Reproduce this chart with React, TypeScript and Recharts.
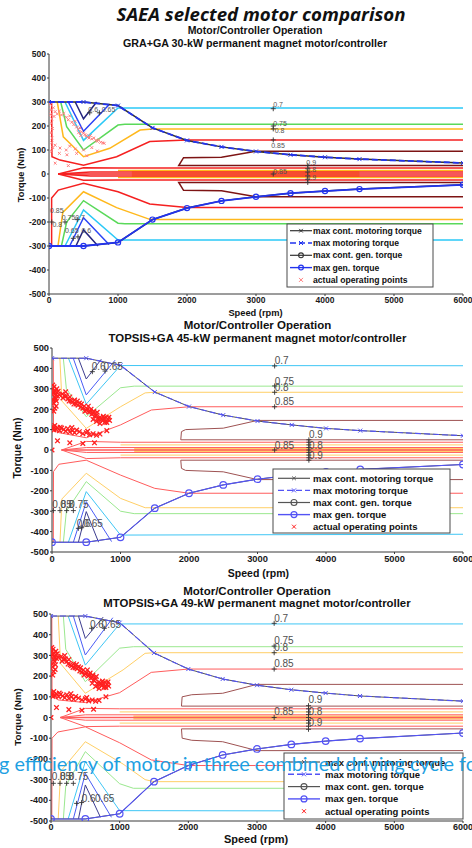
import React from "react";
import { ComposedChart, Line, Scatter, XAxis, YAxis } from "recharts";

type Pt = [number, number];
type Lab = [number, number, string];
type Spec = [Pt[], string, number?];

const FONT = "'Liberation Sans', Arial, Helvetica, sans-serif";

const speedGrid = [0, 500, 1000, 1500, 2000, 2500, 3000, 3500, 4000, 4500, 6000];
const speedTicks = [0, 1000, 2000, 3000, 4000, 5000, 6000];
const torqueTicks = [500, 400, 300, 200, 100, 0, -100, -200, -300, -400, -500];

const legendNames = [
  "max cont. motoring torque",
  "max motoring torque",
  "max cont. gen. torque",
  "max gen. torque",
  "actual operating points",
];

// ---------- GRA+GA 30-kW ----------
const graMot = [300, 300, 285, 192, 140, 113, 94, 80, 70, 62, 46];
const graGen = [-300, -300, -285, -190, -142, -112, -95, -80, -71, -63, -45];

const gra60u: Pt[] = [[380, 300], [500, 230], [690, 300]];
const gra60d: Pt[] = [[390, -300], [500, -233], [710, -300]];
const gra65u: Pt[] = [[280, 300], [500, 178], [880, 292]];
const gra65d: Pt[] = [[300, -300], [500, -182], [870, -294]];
const gra70u: Pt[] = [[232, 300], [500, 140], [1000, 275], [6000, 275]];
const gra70d: Pt[] = [[232, -300], [500, -150], [1000, -275], [6000, -275]];
const gra75u: Pt[] = [[170, 300], [256, 197], [500, 100], [1000, 204], [1100, 207], [6000, 207]];
const gra75d: Pt[] = [[180, -300], [256, -200], [500, -111], [1000, -205], [1100, -207], [6000, -207]];
const gra80u: Pt[] = [[120, 300], [207, 155], [500, 72], [880, 107], [1320, 183], [1500, 187], [6000, 187]];
const gra80d: Pt[] = [[130, -300], [200, -160], [500, -74], [980, -140], [1460, -189], [1600, -190], [6000, -190]];
const gra85u: Pt[] = [[38, 300], [43, 72], [159, 58], [500, 37], [980, 72], [1460, 135], [2000, 142], [6000, 142]];
const gra85d: Pt[] = [[38, -300], [38, -100], [135, -67], [500, -39], [1000, -74], [1460, -125], [2000, -140], [6000, -140]];
const gra90u: Pt[] = [[6000, 95], [3000, 95], [2500, 70], [1950, 68], [1880, 35], [6000, 35]];
const gra90d: Pt[] = [[6000, -95], [3000, -95], [2500, -70], [1950, -68], [1880, -35], [6000, -35]];
const graFanU: Pt[] = [[135, 0], [500, 26], [1000, 25], [6000, 25]];
const graFanD: Pt[] = [[135, 0], [500, -26], [1000, -25], [6000, -25]];
const graMidU: Pt[] = [[1000, 15], [6000, 15]];
const graMidD: Pt[] = [[1000, -15], [6000, -15]];
const graInU: Pt[] = [[135, 0], [600, 8], [6000, 8]];
const graInD: Pt[] = [[135, 0], [600, -8], [6000, -8]];
const graBand: Pt[] = [[1200, 0], [4500, 0]];
const graZero: Pt[] = [[135, 0], [6000, 0]];

const graOps: Pt[] = [
  [20, 290], [30, 268], [25, 248], [42, 230], [35, 212], [50, 190], [30, 172], [45, 150], [40, 130], [55, 110],
  [35, 95], [62, 276], [72, 240], [90, 260], [120, 250], [150, 262], [180, 246], [215, 252], [250, 236], [280, 226],
  [300, 242], [330, 216], [360, 206], [380, 220], [400, 196], [425, 186], [450, 192], [470, 176], [500, 170], [520, 164],
  [540, 160], [560, 154], [580, 150], [600, 160], [620, 146], [650, 150], [680, 140], [700, 136], [720, 142], [750, 132],
  [780, 130], [800, 128], [460, 160], [430, 172], [90, 120], [160, 108], [250, 100], [300, 116], [380, 104], [500, 100],
  [620, 110], [700, 96], [150, 86], [260, 80], [400, 86], [550, 76], [90, 45], [280, 35],
];
const graPlus: Pt[] = [
  [590, 255], [730, 255], [3250, 272], [3250, 200], [3250, 188], [3250, 142], [3250, 0],
  [3750, 35], [3750, 22], [3750, 8], [3750, -8], [3750, -22], [3750, -35],
  [40, -200], [232, -200], [410, -190], [352, -268], [420, -262],
];
const graLabels: Lab[] = [
  [570, 270, "0.6"], [764, 270, "0.65"], [3250, 289, "0.7"], [3250, 211, "0.75"], [3270, 180, "0.8"],
  [3220, 118, "0.85"], [3250, 10, "0.85"], [3730, 49, "0.9"], [3730, 17, "0.8"], [3730, -15, "0.9"],
  [15, -153, "0.85"], [50, -212, "0.8"], [184, -182, "0.75"], [380, -182, "0.7"], [232, -237, "0.65"], [470, -237, "0.6"],
];

// ---------- TOPSIS+GA 45-kW ----------
const topMot = [450, 450, 415, 284, 213, 171, 142, 123, 106, 95, 70];
const topGen = [-452, -452, -428, -285, -212, -171, -143, -123, -107, -95, -71];

const top60u: Pt[] = [[385, 450], [500, 348], [720, 445]];
const top60d: Pt[] = [[385, -452], [500, -302], [680, -452]];
const top65u: Pt[] = [[310, 450], [500, 270], [920, 440]];
const top65d: Pt[] = [[312, -452], [500, -253], [870, -449]];
const top70u: Pt[] = [[240, 450], [500, 225], [1000, 414], [6000, 413]];
const top70d: Pt[] = [[239, -452], [500, -204], [1000, -417], [6000, -413]];
const top75u: Pt[] = [[165, 450], [210, 300], [500, 163], [1000, 305], [1200, 313], [6000, 313]];
const top75d: Pt[] = [[166, -452], [210, -300], [500, -155], [1000, -300], [1200, -312], [6000, -312]];
const top80u: Pt[] = [[115, 450], [145, 240], [500, 106], [1000, 212], [1360, 280], [1500, 283], [6000, 283]];
const top80d: Pt[] = [[117, -452], [145, -240], [500, -114], [1000, -237], [1360, -283], [1500, -283], [6000, -283]];
const top85u: Pt[] = [[19, 450], [22, 125], [100, 85], [500, 60], [1000, 123], [1450, 196], [2000, 212], [6000, 212]];
const top85d: Pt[] = [[19, -452], [22, -106], [100, -70], [500, -50], [1000, -123], [1500, -188], [2000, -212], [6000, -212]];
const top90u: Pt[] = [[6000, 145], [3000, 145], [2500, 107], [1950, 100], [1890, 90], [1880, 50], [6000, 50]];
const top90d: Pt[] = [[6000, -145], [3000, -145], [2500, -107], [1950, -100], [1890, -90], [1880, -50], [6000, -50]];
const topFanU: Pt[] = [[140, 0], [500, 42], [1000, 38], [6000, 38]];
const topFanD: Pt[] = [[140, 0], [500, -42], [1000, -38], [6000, -38]];
const topMidU: Pt[] = [[1000, 25], [6000, 25]];
const topMidD: Pt[] = [[1000, -25], [6000, -25]];
const topInU: Pt[] = [[140, 0], [500, 12], [6000, 12]];
const topInD: Pt[] = [[140, 0], [500, -12], [6000, -12]];
const topBand: Pt[] = [[1200, 0], [6000, 0]];
const topZero: Pt[] = [[140, 0], [6000, 0]];

const topOps: Pt[] = [
  [10, 300], [20, 280], [30, 310], [40, 260], [15, 245], [50, 290], [60, 270], [25, 230], [70, 300], [35, 285],
  [55, 250], [80, 265], [45, 275], [65, 240], [10, 318], [40, 205], [25, 190], [60, 215], [90, 288], [110, 270],
  [150, 275], [180, 265], [200, 285], [230, 250], [260, 260], [280, 240], [300, 235], [330, 245], [350, 225], [380, 220],
  [400, 230], [420, 210], [450, 205], [470, 215], [500, 195], [520, 200], [540, 185], [560, 190], [580, 175], [600, 180],
  [620, 165], [650, 170], [670, 155], [700, 160], [720, 150], [740, 145], [760, 155], [780, 140], [800, 135], [820, 150],
  [840, 145], [600, 150], [650, 140], [700, 130], [160, 255], [210, 265], [250, 240], [320, 225], [370, 240], [430, 225],
  [480, 190], [530, 215], [570, 200], [610, 190], [660, 185], [690, 150], [750, 165], [790, 160], [830, 160], [770, 135],
  [0, 115], [20, 105], [40, 120], [60, 100], [80, 110], [110, 95], [140, 108], [170, 100], [200, 92], [230, 105],
  [260, 88], [300, 95], [330, 85], [360, 98], [400, 90], [450, 80], [500, 85], [550, 75], [600, 80], [650, 72],
  [700, 78], [800, 95], [30, 98], [120, 112], [290, 110], [520, 92], [80, 45], [260, 35], [450, 32], [620, 35], [0, 0],
];
const topPlus: Pt[] = [
  [589, 384], [774, 387], [3250, 412], [3250, 314], [3250, 283], [3250, 212], [3250, 0],
  [3750, 50], [3750, 38], [3750, 25], [3750, 12], [3750, 0], [3750, -12], [3750, -25], [3750, -38], [3750, -50],
  [19, -297], [117, -297], [214, -297], [312, -297], [385, -384], [433, -381],
];
const topLabels: Lab[] = [
  [580, 408, "0.6"], [750, 408, "0.65"], [3250, 438, "0.7"], [3250, 338, "0.75"], [3250, 307, "0.8"],
  [3250, 240, "0.85"], [3250, 24, "0.85"], [3750, 77, "0.9"], [3750, 24, "0.8"], [3750, -28, "0.9"],
  [5, -266, "0.85"], [120, -266, "0.8"], [250, -266, "0.75"], [360, -359, "0.6"], [458, -359, "0.65"],
];

// ---------- MTOPSIS+GA 49-kW ----------
const mtMot = [490, 490, 458, 312, 234, 186, 156, 134, 118, 104, 79];
const mtGen = [-490, -490, -465, -310, -232, -181, -152, -130, -114, -102, -75];

const mt60u: Pt[] = [[400, 490], [500, 382], [760, 485]];
const mt60d: Pt[] = [[400, -490], [500, -326], [720, -482]];
const mt65u: Pt[] = [[325, 490], [500, 302], [900, 482]];
const mt65d: Pt[] = [[325, -490], [500, -270], [880, -482]];
const mt70u: Pt[] = [[250, 490], [500, 253], [1000, 452], [6000, 452]];
const mt70d: Pt[] = [[250, -490], [500, -213], [1000, -450], [6000, -452]];
const mt75u: Pt[] = [[180, 490], [215, 330], [500, 173], [1000, 335], [1200, 342], [6000, 342]];
const mt75d: Pt[] = [[180, -490], [215, -330], [500, -165], [1000, -320], [1200, -342], [6000, -342]];
const mt80u: Pt[] = [[105, 490], [140, 260], [500, 117], [1050, 230], [1370, 310], [1500, 313], [6000, 313]];
const mt80d: Pt[] = [[105, -490], [140, -260], [500, -117], [1050, -225], [1370, -300], [1500, -310], [6000, -310]];
const mt85u: Pt[] = [[12, 490], [15, 117], [100, 85], [500, 72], [1000, 120], [1460, 218], [2000, 234], [6000, 234]];
const mt85d: Pt[] = [[12, -490], [15, -100], [100, -70], [500, -45], [1000, -122], [1460, -205], [2000, -232], [6000, -232]];
const mt90u: Pt[] = [[6000, 160], [3000, 160], [2500, 117], [2050, 110], [1910, 100], [1900, 55], [6000, 55]];
const mt90d: Pt[] = [[6000, -160], [3000, -160], [2500, -117], [2050, -110], [1910, -100], [1900, -55], [6000, -55]];
const mtFanU: Pt[] = [[135, 0], [500, 44], [1000, 42], [6000, 42]];
const mtFanD: Pt[] = [[135, 0], [500, -44], [1000, -42], [6000, -42]];
const mtMidU: Pt[] = [[1000, 27], [6000, 27]];
const mtMidD: Pt[] = [[1000, -27], [6000, -27]];
const mtInU: Pt[] = [[135, 0], [500, 13], [6000, 13]];
const mtInD: Pt[] = [[135, 0], [500, -13], [6000, -13]];
const mtBand: Pt[] = [[1200, 0], [6000, 0]];
const mtZero: Pt[] = [[135, 0], [6000, 0]];

const mtOps: Pt[] = [
  [10, 320], [20, 300], [30, 330], [40, 280], [15, 260], [50, 310], [60, 290], [25, 245], [70, 320], [35, 305],
  [55, 270], [80, 285], [45, 295], [65, 255], [10, 338], [40, 222], [25, 205], [60, 232], [90, 308], [110, 290],
  [150, 295], [180, 280], [200, 300], [230, 270], [260, 280], [280, 255], [300, 250], [330, 260], [350, 240], [380, 235],
  [400, 245], [420, 225], [450, 220], [470, 230], [500, 210], [520, 215], [540, 200], [560, 205], [580, 190], [600, 195],
  [620, 180], [650, 185], [670, 165], [700, 172], [720, 160], [740, 155], [760, 165], [780, 150], [800, 145], [820, 160],
  [840, 152], [600, 165], [650, 150], [700, 140], [160, 272], [210, 283], [250, 258], [320, 242], [370, 256], [430, 240],
  [480, 205], [530, 230], [570, 215], [610, 205], [660, 198], [690, 160], [750, 176], [790, 170], [830, 172], [770, 145],
  [0, 120], [20, 110], [40, 125], [60, 105], [80, 115], [110, 100], [140, 112], [170, 104], [200, 95], [230, 110],
  [260, 92], [300, 100], [330, 88], [360, 102], [400, 94], [450, 85], [500, 90], [550, 80], [600, 85], [650, 78],
  [700, 82], [800, 100], [30, 102], [120, 118], [290, 115], [520, 96], [80, 48], [260, 38], [450, 35], [620, 40], [0, 0],
];
const mtPlus: Pt[] = [
  [592, 431], [776, 431], [3250, 455], [3250, 345], [3250, 313], [3250, 234], [3250, 0],
  [3750, 57], [3750, 42], [3750, 27], [3750, 14], [3750, 0], [3750, -14], [3750, -27], [3750, -42], [3750, -57],
  [34, -318], [131, -318], [228, -318], [325, -318], [373, -415], [446, -411],
];
const mtLabels: Lab[] = [
  [567, 447, "0.6"], [737, 447, "0.65"], [3250, 479, "0.7"], [3250, 371, "0.75"], [3250, 337, "0.8"],
  [3250, 262, "0.85"], [3250, 28, "0.85"], [3750, 85, "0.9"], [3750, 31, "0.8"], [3750, -25, "0.9"],
  [10, -286, "0.85"], [130, -286, "0.8"], [260, -286, "0.75"], [446, -390, "0.6"], [640, -390, "0.65"],
];

const pal1: Record<string, string> = {
  e60: "#25257f", e65: "#2b45f5", e70: "#2bc9f7", e75: "#5ad95a", e80: "#ffb81c", e85: "#f52020",
  e90: "#7d1414", max: "#2233ee", cont: "#333333", op: "#ff7f7f", lab: "#555555", band: "#ffc640", mid: "#ffb81c",
};
const pal2: Record<string, string> = {
  e60: "#3d3d8f", e65: "#4a5cf5", e70: "#3fc6f5", e75: "#9be88f", e80: "#ffcf66", e85: "#ff5c5c",
  e90: "#9e5252", max: "#5353f5", cont: "#555555", op: "#ff2020", lab: "#505050", band: "#ffcc55", mid: "#ffcf66",
};

const lineSpecs = (s: Record<string, Pt[]>, bandW: number): Spec[] => [
  [s.b, "band", bandW],
  [s.mu, "mid"], [s.md, "mid"],
  [s.iu, "e85"], [s.id, "e85"],
  [s.fu, "e85"], [s.fd, "e85"],
  [s.z, "e85", 1.6],
  [s.e90u, "e90"], [s.e90d, "e90"],
  [s.e85u, "e85"], [s.e85d, "e85"],
  [s.e80u, "e80"], [s.e80d, "e80"],
  [s.e75u, "e75"], [s.e75d, "e75"],
  [s.e70u, "e70"], [s.e70d, "e70"],
  [s.e65u, "e65"], [s.e65d, "e65"],
  [s.e60u, "e60"], [s.e60d, "e60"],
];

const graLines = lineSpecs({
  b: graBand, mu: graMidU, md: graMidD, iu: graInU, id: graInD, fu: graFanU, fd: graFanD, z: graZero,
  e90u: gra90u, e90d: gra90d, e85u: gra85u, e85d: gra85d, e80u: gra80u, e80d: gra80d,
  e75u: gra75u, e75d: gra75d, e70u: gra70u, e70d: gra70d, e65u: gra65u, e65d: gra65d, e60u: gra60u, e60d: gra60d,
}, 6);
const topLines = lineSpecs({
  b: topBand, mu: topMidU, md: topMidD, iu: topInU, id: topInD, fu: topFanU, fd: topFanD, z: topZero,
  e90u: top90u, e90d: top90d, e85u: top85u, e85d: top85d, e80u: top80u, e80d: top80d,
  e75u: top75u, e75d: top75d, e70u: top70u, e70d: top70d, e65u: top65u, e65d: top65d, e60u: top60u, e60d: top60d,
}, 4);
const mtLines = lineSpecs({
  b: mtBand, mu: mtMidU, md: mtMidD, iu: mtInU, id: mtInD, fu: mtFanU, fd: mtFanD, z: mtZero,
  e90u: mt90u, e90d: mt90d, e85u: mt85u, e85d: mt85d, e80u: mt80u, e80d: mt80d,
  e75u: mt75u, e75d: mt75d, e70u: mt70u, e70d: mt70d, e65u: mt65u, e65d: mt65d, e60u: mt60u, e60d: mt60d,
}, 4);

const pts = (a: Pt[]) => a.map(([s, t]) => ({ s, t }));
const onGrid = (vals: number[]) => speedGrid.map((s, i) => ({ s, t: vals[i] }));
const xPath = (cx: number, cy: number, r: number) =>
  `M${cx - r},${cy - r}L${cx + r},${cy + r}M${cx - r},${cy + r}L${cx + r},${cy - r}`;
const plusPath = (cx: number, cy: number, r: number) =>
  `M${cx - r},${cy}L${cx + r},${cy}M${cx},${cy - r}L${cx},${cy + r}`;

interface PanelProps {
  top: number;
  height: number;
  plotTop: number;
  plotBottom: number;
  left: number;
  pal: Record<string, string>;
  lines: Spec[];
  mot: number[];
  gen: number[];
  ops: Pt[];
  plus: Pt[];
  labels: Lab[];
  tickFont: number;
  labFont: number;
  opR: number;
  opW: number;
  lineW: number;
  curveW: number;
  circleR: number;
}

function Panel(p: PanelProps) {
  const motData = onGrid(p.mot);
  const genData = onGrid(p.gen);
  const tick = { fontSize: p.tickFont, fontWeight: 700, fill: "#1a1a1a", fontFamily: FONT };
  return (
    <div style={{ position: "absolute", left: 0, top: p.top, width: 472, height: p.height }}>
      <ComposedChart width={472} height={p.height} margin={{ top: p.plotTop, right: 9, bottom: 0, left: 0 }}>
        <XAxis
          type="number"
          dataKey="s"
          domain={[0, 6000]}
          ticks={speedTicks}
          interval={0}
          allowDataOverflow
          height={p.height - p.plotBottom}
          tickSize={2}
          tickMargin={1}
          stroke="#3a3a3a"
          tick={tick}
        />
        <YAxis
          type="number"
          dataKey="t"
          domain={[-500, 500]}
          ticks={torqueTicks}
          interval={0}
          allowDataOverflow
          width={p.left}
          tickSize={2}
          tickMargin={1}
          stroke="#3a3a3a"
          tick={tick}
        />
        {p.lines.map(([d, k, w], i) => (
          <Line
            key={`c${i}`}
            data={pts(d)}
            dataKey="t"
            type="linear"
            stroke={p.pal[k]}
            strokeWidth={w ?? p.lineW}
            strokeOpacity={k === "band" ? 0.85 : 1}
            dot={false}
            activeDot={false}
            isAnimationActive={false}
          />
        ))}
        <Line data={motData} dataKey="t" type="linear" stroke={p.pal.cont} strokeWidth={p.lineW}
          dot={false} activeDot={false} isAnimationActive={false} />
        <Line
          data={motData}
          dataKey="t"
          type="linear"
          stroke={p.pal.max}
          strokeWidth={p.curveW}
          strokeDasharray="6 3"
          activeDot={false}
          isAnimationActive={false}
          dot={(d: any) => (
            <path key={`m${d.index}`} d={xPath(d.cx, d.cy, 2)} stroke={p.pal.max} strokeWidth={1} fill="none" />
          )}
        />
        <Line data={genData} dataKey="t" type="linear" stroke={p.pal.cont} strokeWidth={p.lineW}
          dot={false} activeDot={false} isAnimationActive={false} />
        <Line
          data={genData}
          dataKey="t"
          type="linear"
          stroke={p.pal.max}
          strokeWidth={p.curveW}
          activeDot={false}
          isAnimationActive={false}
          dot={(d: any) => (
            <circle key={`g${d.index}`} cx={d.cx} cy={d.cy} r={p.circleR} fill="none" stroke={p.pal.max} strokeWidth={1.2} />
          )}
        />
        <Scatter
          data={pts(p.ops)}
          dataKey="t"
          isAnimationActive={false}
          shape={(d: any) => <path d={xPath(d.cx, d.cy, p.opR)} stroke={p.pal.op} strokeWidth={p.opW} fill="none" />}
        />
        <Scatter
          data={pts(p.plus)}
          dataKey="t"
          isAnimationActive={false}
          shape={(d: any) => <path d={plusPath(d.cx, d.cy, 2.5)} stroke="#333" strokeWidth={0.9} fill="none" />}
        />
        <Scatter
          data={p.labels.map(([s, t, txt]) => ({ s, t, txt }))}
          dataKey="t"
          isAnimationActive={false}
          shape={(d: any) => (
            <text x={d.cx} y={d.cy} dominantBaseline="central" fontSize={p.labFont} fill={p.pal.lab} fontFamily={FONT}>
              {d.payload.txt}
            </text>
          )}
        />
      </ComposedChart>
    </div>
  );
}

interface LegendProps {
  x: number;
  y: number;
  w: number;
  h: number;
  first: number;
  gap: number;
  l1: number;
  l2: number;
  tx: number;
  font: number;
  pal: Record<string, string>;
  circleR: number;
}

function LegendBox(p: LegendProps) {
  const a = p.x + p.l1;
  const b = p.x + p.l2;
  const mx = (a + b) / 2;
  return (
    <g>
      <rect x={p.x} y={p.y} width={p.w} height={p.h} fill="#fff" stroke="#4a4a4a" strokeWidth={1} />
      {legendNames.map((name, i) => {
        const cy = p.y + p.first + i * p.gap;
        let glyph: React.ReactNode = null;
        if (i === 0) {
          glyph = (
            <g>
              <line x1={a} x2={b} y1={cy} y2={cy} stroke={p.pal.cont} strokeWidth={1.2} />
              <path d={xPath(mx, cy, 1.8)} stroke={p.pal.cont} fill="none" />
            </g>
          );
        } else if (i === 1) {
          glyph = (
            <g>
              <line x1={a} x2={b} y1={cy} y2={cy} stroke={p.pal.max} strokeWidth={1.4} strokeDasharray="6 3" />
              <path d={xPath(mx, cy, 2)} stroke={p.pal.max} fill="none" />
            </g>
          );
        } else if (i === 2) {
          glyph = (
            <g>
              <line x1={a} x2={b} y1={cy} y2={cy} stroke={p.pal.cont} strokeWidth={1.2} />
              <circle cx={mx} cy={cy} r={p.circleR} fill="none" stroke={p.pal.cont} strokeWidth={1.1} />
            </g>
          );
        } else if (i === 3) {
          glyph = (
            <g>
              <line x1={a} x2={b} y1={cy} y2={cy} stroke={p.pal.max} strokeWidth={1.4} />
              <circle cx={mx} cy={cy} r={p.circleR} fill="none" stroke={p.pal.max} strokeWidth={1.2} />
            </g>
          );
        } else {
          glyph = <path d={xPath(mx, cy, 2)} stroke={p.pal.op} fill="none" />;
        }
        return (
          <g key={name}>
            {glyph}
            <text x={p.x + p.tx} y={cy} dominantBaseline="central" fontSize={p.font} fontWeight={700}
              fontFamily={FONT} fill="#111">
              {name}
            </text>
          </g>
        );
      })}
    </g>
  );
}

const T = (x: number, y: number, size: number, txt: string, extra: React.SVGProps<SVGTextElement> = {}) => (
  <text x={x} y={y} textAnchor="middle" dominantBaseline="central" fontSize={size} fontWeight={700}
    fontFamily={FONT} fill="#111" {...extra}>
    {txt}
  </text>
);

export default function App() {
  return (
    <div style={{ position: "fixed", left: 0, top: 0, width: 472, height: 848, background: "#fff", overflow: "hidden" }}>
      <Panel top={0} height={310} plotTop={54} plotBottom={294} left={49} pal={pal1} lines={graLines}
        mot={graMot} gen={graGen} ops={graOps} plus={graPlus} labels={graLabels}
        tickFont={8.5} labFont={7} opR={1.4} opW={1} lineW={1.5} curveW={1.8} circleR={2.6} />
      <Panel top={300} height={270} plotTop={48} plotBottom={252} left={52} pal={pal2} lines={topLines}
        mot={topMot} gen={topGen} ops={topOps} plus={topPlus} labels={topLabels}
        tickFont={9.3} labFont={10} opR={2.3} opW={1.3} lineW={1} curveW={1.1} circleR={3.3} />
      <Panel top={570} height={270} plotTop={44} plotBottom={251} left={51} pal={pal2} lines={mtLines}
        mot={mtMot} gen={mtGen} ops={mtOps} plus={mtPlus} labels={mtLabels}
        tickFont={9} labFont={10} opR={2.3} opW={1.3} lineW={1} curveW={1.1} circleR={3.3} />

      <svg width={472} height={848} style={{ position: "absolute", left: 0, top: 0, pointerEvents: "none" }}>
        {T(261, 14, 17, "SAEA selected motor comparison", {
          fontFamily: "'Open Sans', 'DejaVu Sans', sans-serif", fontStyle: "italic", textLength: 289,
          lengthAdjust: "spacingAndGlyphs",
        })}

        {T(255, 30, 10.5, "Motor/Controller Operation")}
        {T(255, 43, 10.7, "GRA+GA 30-kW permanent magnet motor/controller")}
        {T(255.5, 312.5, 9.3, "Speed (rpm)")}
        {T(0, 0, 9.3, "Torque (Nm)", { transform: "translate(21,175) rotate(-90)" })}

        {T(257.5, 325, 11.5, "Motor/Controller Operation")}
        {T(257.5, 337.5, 11.4, "TOPSIS+GA 45-kW permanent magnet motor/controller")}
        {T(258.5, 573, 10.5, "Speed (rpm)")}
        {T(0, 0, 10.4, "Torque (Nm)", { transform: "translate(17,448) rotate(-90)" })}

        {T(257, 591, 11.5, "Motor/Controller Operation")}
        {T(257, 603, 11.4, "MTOPSIS+GA 49-kW permanent magnet motor/controller")}
        {T(256, 839, 11, "Speed (rpm)")}
        {T(0, 0, 9.8, "Torque (Nm)", { transform: "translate(17,717) rotate(-90)" })}

        <LegendBox x={287} y={224} w={146} h={63} first={6.7} gap={12.3} l1={3} l2={25} tx={26}
          font={8.6} pal={pal1} circleR={2.4} />
        <LegendBox x={273} y={469} w={177} h={64} first={9.3} gap={12.1} l1={5} l2={37} tx={40}
          font={9.5} pal={pal2} circleR={3} />
        <LegendBox x={284} y={753} w={179} h={66} first={9} gap={12.3} l1={4} l2={36} tx={41}
          font={9.5} pal={pal2} circleR={3} />

        <text x={-1} y={771} fontSize={20} fontFamily="Lato, 'Open Sans', sans-serif" fill="#1ea0e2"
          textLength={478} lengthAdjust="spacingAndGlyphs">
          g efficiency of motor in three combined driving cycle fo
        </text>
      </svg>
    </div>
  );
}
